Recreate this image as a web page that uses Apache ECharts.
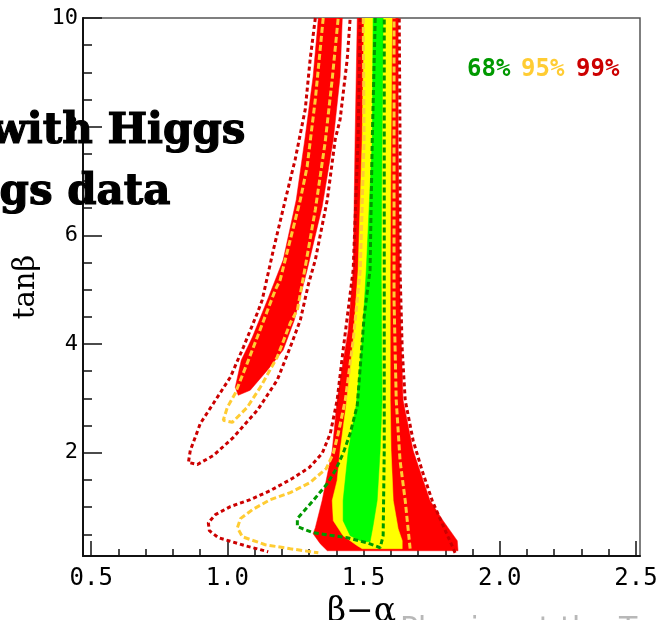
<!DOCTYPE html>
<html><head><meta charset="utf-8">
<script src="https://cdn.jsdelivr.net/npm/echarts@6/dist/echarts.min.js"></script>
<style>html,body{margin:0;padding:0;background:#fff;overflow:hidden}#c{width:661px;height:620px}</style>
</head><body><div id="c"></div>
<script>
// axis ticks
const xTicks = [0.5, 1.0, 1.5, 2.0, 2.5];
const xMinorTicks = [0.6,0.7,0.8,0.9,1.1,1.2,1.3,1.4,1.6,1.7,1.8,1.9,2.1,2.2,2.3,2.4];
const yTicks = [2, 4, 6, 8, 10];
const yMinorTicks = [0.5,1,1.5,2.5,3,3.5,4.5,5,5.5,6.5,7,7.5,8.5,9,9.5];
const legendLabels = ['68%', '95%', '99%'];

// filled confidence regions (beta-alpha, tan beta)
const red99Main = [[1.477,10.0],[1.469,7.765],[1.462,5.365],[1.444,4.257],[1.414,3.335],[1.403,2.966],[1.385,2.042],[1.348,1.120],[1.323,0.621],[1.315,0.510],[1.341,0.326],[1.367,0.197],[1.847,0.197],[1.844,0.381],[1.792,0.750],[1.744,1.120],[1.719,1.489],[1.682,2.042],[1.645,2.966],[1.634,4.812],[1.627,7.765],[1.627,10.0]];
const yel95Main = [[1.502,10.0],[1.495,7.765],[1.480,5.365],[1.462,4.073],[1.436,2.873],[1.414,2.042],[1.403,1.489],[1.385,1.120],[1.389,0.750],[1.425,0.474],[1.477,0.289],[1.495,0.234],[1.642,0.234],[1.642,0.381],[1.627,0.603],[1.609,1.120],[1.601,2.042],[1.598,2.966],[1.598,5.365],[1.601,7.765],[1.605,10.0]];
const grn68Main = [[1.535,10.0],[1.532,7.765],[1.510,5.365],[1.495,4.073],[1.473,2.873],[1.444,2.042],[1.425,1.120],[1.425,0.750],[1.451,0.474],[1.495,0.363],[1.524,0.363],[1.535,0.658],[1.550,1.120],[1.561,2.042],[1.568,2.966],[1.565,5.365],[1.568,7.765],[1.572,10.0]];
const red99Left = [[1.334,10.0],[1.315,8.928],[1.286,7.820],[1.253,6.657],[1.205,5.550],[1.147,4.812],[1.092,4.129],[1.051,3.704],[1.029,3.205],[1.040,3.058],[1.084,3.150],[1.147,3.519],[1.205,3.889],[1.246,4.442],[1.293,5.365],[1.348,6.528],[1.389,7.765],[1.414,8.928],[1.422,10.0]];

// contour lines
const red99LeftLine = [[1.323,10.0],[1.304,9.242],[1.286,8.319],[1.249,7.396],[1.213,6.657],[1.169,5.734],[1.128,4.812],[1.110,4.571],[1.059,3.944],[1.011,3.390],[0.949,2.910],[0.901,2.541],[0.864,2.042],[0.857,1.821],[0.890,1.784],[0.949,1.950],[1.022,2.282],[1.110,2.781],[1.183,3.335],[1.231,3.944],[1.268,4.442],[1.297,5.088],[1.323,5.550],[1.367,6.657],[1.396,7.765],[1.414,8.134],[1.440,9.242],[1.451,10.0]];
const yel95LeftLine = [[1.352,10.0],[1.323,8.504],[1.293,7.267],[1.268,6.657],[1.231,5.919],[1.194,5.181],[1.176,4.996],[1.110,4.129],[1.073,3.649],[1.029,3.095],[1.000,2.836],[0.985,2.597],[1.018,2.560],[1.073,2.836],[1.121,3.205],[1.183,3.759],[1.231,4.387],[1.257,4.627],[1.286,5.421],[1.323,6.473],[1.359,7.710],[1.385,8.873],[1.407,10.0]];
const red99MainLineL = [[1.488,10.0],[1.480,7.765],[1.462,5.365],[1.425,3.889],[1.403,2.966],[1.378,2.356],[1.348,1.987],[1.301,1.729],[1.238,1.526],[1.158,1.304],[1.084,1.138],[1.011,1.009],[0.956,0.861],[0.930,0.713],[0.934,0.566],[0.967,0.437],[1.066,0.289],[1.150,0.178]];
const red99MainLineR = [[1.836,0.159],[1.825,0.289],[1.792,0.658],[1.752,1.120],[1.715,1.673],[1.682,2.227],[1.653,2.966],[1.642,3.889],[1.634,5.365],[1.634,7.765],[1.631,10.0]];
const yel95MainLineL = [[1.499,10.0],[1.502,7.765],[1.488,5.365],[1.462,4.073],[1.433,2.966],[1.407,2.356],[1.389,1.987],[1.363,1.710],[1.304,1.452],[1.231,1.267],[1.158,1.138],[1.092,0.953],[1.048,0.787],[1.037,0.621],[1.055,0.455],[1.139,0.307],[1.231,0.234],[1.334,0.159]];
const yel95MainLineR = [[1.671,0.234],[1.653,1.120],[1.634,1.858],[1.620,2.966],[1.612,4.812],[1.612,7.765],[1.612,10.0]];
const grn68MainLine = [[1.543,10.0],[1.532,7.765],[1.524,5.365],[1.502,4.498],[1.477,2.873],[1.451,2.356],[1.425,1.987],[1.396,1.673],[1.367,1.433],[1.315,1.120],[1.257,0.787],[1.257,0.640],[1.315,0.529],[1.389,0.474],[1.440,0.437],[1.513,0.344],[1.561,0.252],[1.572,0.474],[1.576,2.042],[1.576,4.812],[1.576,7.765],[1.576,10.0]];

const C_RED_FILL = '#ff0000', C_YEL_FILL = '#ffff00', C_GRN_FILL = '#00ff00';
const C_RED_LINE = '#cc0000', C_YEL_LINE = '#ffcc33', C_GRN_LINE = '#009900';
const tickFont = 'DejaVu Sans Mono';

function polySeries(pts, color) {
  return {
    type: 'custom', clip: true, silent: true,
    data: [pts[0]],
    encode: {x: 0, y: 1},
    renderItem: function (params, api) {
      return {
        type: 'polygon',
        shape: {points: pts.map(p => api.coord(p))},
        style: {fill: color, stroke: color, lineWidth: 0.5}
      };
    }
  };
}
function lineSeries(pts, color, dash) {
  return {
    type: 'line', data: pts, showSymbol: false, symbol: 'none', silent: true,
    clip: true,
    lineStyle: {color: color, width: 3, type: dash}
  };
}

const chart = echarts.init(document.getElementById('c'), null, {renderer: 'canvas'});
chart.setOption({
  animation: false,
  backgroundColor: '#fff',
  grid: {left: 83, right: 21, top: 18, bottom: 64, containLabel: false, outerBoundsMode: 'none',
         show: true, borderColor: '#555', borderWidth: 1.5, backgroundColor: 'transparent'},
  xAxis: [
    {type: 'value', min: 0.47, max: 2.515, position: 'bottom',
     name: 'β−α', nameLocation: 'middle', nameGap: 34,
     nameTextStyle: {fontFamily: 'DejaVu Serif', fontSize: 33, color: '#000', verticalAlign: 'top'},
     axisLine: {show: true, lineStyle: {color: '#111', width: 2}},
     axisTick: {show: true, inside: true, length: 15, customValues: xTicks, lineStyle: {color: '#111', width: 1.5}},
     axisLabel: {show: true, customValues: xTicks, margin: 11, fontFamily: tickFont, fontSize: 24, color: '#000', formatter: v => v.toFixed(1)},
     splitLine: {show: false}},
    {type: 'value', min: 0.47, max: 2.515, position: 'bottom',
     axisLine: {show: false},
     axisTick: {show: true, inside: true, length: 7, customValues: xMinorTicks, lineStyle: {color: '#111', width: 1.5}},
     axisLabel: {show: false}, splitLine: {show: false}}
  ],
  yAxis: [
    {type: 'value', min: 0.1, max: 10, position: 'left',
     name: 'tanβ', nameLocation: 'middle', nameGap: 42, nameRotate: 90,
     nameTextStyle: {fontFamily: 'DejaVu Serif', fontSize: 29, color: '#000'},
     axisLine: {show: true, lineStyle: {color: '#111', width: 2}},
     axisTick: {show: true, inside: true, length: 19, customValues: yTicks, lineStyle: {color: '#111', width: 1.5}},
     axisLabel: {show: true, customValues: yTicks, margin: 5, fontFamily: tickFont, fontSize: 22, color: '#000', formatter: v => String(v)},
     splitLine: {show: false}},
    {type: 'value', min: 0.1, max: 10, position: 'left',
     axisLine: {show: false},
     axisTick: {show: true, inside: true, length: 9, customValues: yMinorTicks, lineStyle: {color: '#111', width: 1.5}},
     axisLabel: {show: false}, splitLine: {show: false}}
  ],
  series: [
    polySeries(red99Main, C_RED_FILL),
    polySeries(red99Left, C_RED_FILL),
    polySeries(yel95Main, C_YEL_FILL),
    polySeries(grn68Main, C_GRN_FILL),
    lineSeries(red99LeftLine, C_RED_LINE, [4, 3]),
    lineSeries(red99MainLineL, C_RED_LINE, [4, 3]),
    lineSeries(red99MainLineR, C_RED_LINE, [4, 3]),
    lineSeries(yel95LeftLine, C_YEL_LINE, [6, 3]),
    lineSeries(yel95MainLineL, C_YEL_LINE, [6, 3]),
    lineSeries(yel95MainLineR, C_YEL_LINE, [6, 3]),
    lineSeries(grn68MainLine, C_GRN_LINE, [5, 3])
  ],
  graphic: [
    {type: 'text', right: 661 - 246, top: 110, z: 100,
     style: {text: 'with Higgs', font: 'bold 42px "DejaVu Serif"', fill: '#000', stroke: '#000', lineWidth: 1.2}},
    {type: 'text', right: 661 - 171, top: 171, z: 100,
     style: {text: 'Higgs data', font: 'bold 42px "DejaVu Serif"', fill: '#000', stroke: '#000', lineWidth: 1.2}},
    {type: 'text', left: 467, top: 58, z: 100,
     style: {text: legendLabels[0], font: 'bold 24px "DejaVu Sans Mono"', fill: C_GRN_LINE}},
    {type: 'text', left: 521, top: 58, z: 100,
     style: {text: legendLabels[1], font: 'bold 24px "DejaVu Sans Mono"', fill: C_YEL_LINE}},
    {type: 'text', left: 576, top: 58, z: 100,
     style: {text: legendLabels[2], font: 'bold 24px "DejaVu Sans Mono"', fill: C_RED_LINE}},
    {type: 'text', left: 400, top: 615, z: 0,
     style: {text: 'Physics at the Terascale', font: '30px "DejaVu Sans"', fill: '#b8b8b8'}}
  ]
});
</script>
</body></html>
